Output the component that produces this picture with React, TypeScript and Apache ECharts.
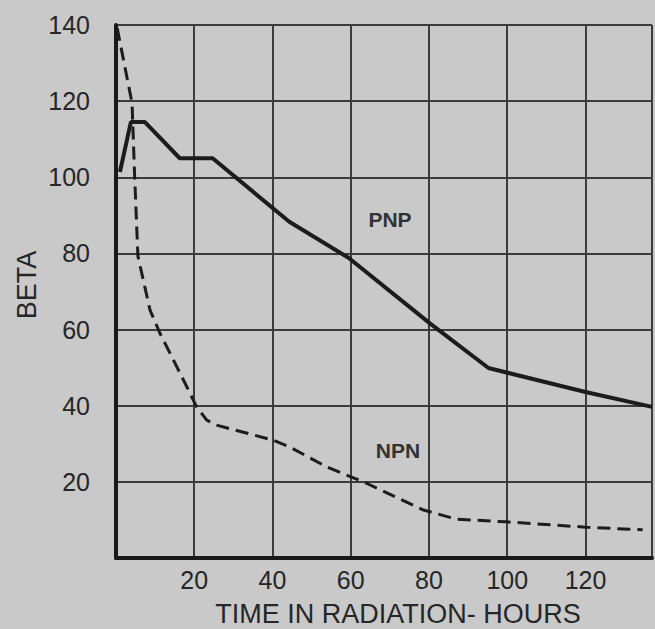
import React, { useEffect, useRef } from "react";
import * as echarts from "echarts";

const pnpHours = [1.0, 3.8, 7.4, 16.3, 24.7, 44.3, 59.5, 80.4, 95.2, 120, 137];
const pnpBeta = [101.4, 114.5, 114.5, 105, 105, 88.3, 78.8, 61.5, 49.9, 43.6, 39.7];

const npnHours = [0.3, 4.1, 4.8, 5.6, 8.7, 11.2, 17.6, 20.6, 23.2, 25.7, 40, 44.3, 53.9, 63.9, 78.6, 87, 99.7, 120.1, 134.6];
const npnBeta = [139.2, 119.5, 99.3, 79.3, 65.1, 59.1, 46.0, 39.7, 36.2, 34.9, 31.0, 29.2, 23.9, 19.7, 12.6, 10.2, 9.5, 8.1, 7.4];

const xTicks = [20, 40, 60, 80, 100, 120];
const yTicks = [20, 40, 60, 80, 100, 120, 140];

const xTitle = "TIME IN RADIATION- HOURS";
const yTitle = "BETA";
const pnpLabel = "PNP";
const npnLabel = "NPN";

const FONT = "'Liberation Sans', Arial, sans-serif";
const INK = "#262626";
const GRIDC = "#3c3c3c";

export default function App() {
  const ref = useRef<HTMLDivElement>(null);
  useEffect(() => {
    document.body.style.margin = "0";
    const chart = echarts.init(ref.current!, null, { renderer: "svg" });
    const zip = (xs: number[], ys: number[]) => xs.map((x, i) => [x, ys[i]]);
    chart.setOption({
      animation: false,
      backgroundColor: "#c9c9c9",
      grid: { left: 116, top: 25, right: 0, bottom: 71, containLabel: false },
      xAxis: {
        type: "value",
        min: 0,
        max: 137,
        interval: 20,
        axisLine: { show: true, onZero: false, lineStyle: { color: "#1a1a1a", width: 4 } },
        axisTick: { show: false },
        axisLabel: {
          margin: 9,
          fontFamily: FONT,
          fontSize: 25,
          color: INK,
          formatter: (v: number) => (xTicks.includes(v) ? String(v) : ""),
        },
        splitLine: { show: true, lineStyle: { color: GRIDC, width: 2 } },
      },
      yAxis: {
        type: "value",
        min: 0,
        max: 140,
        interval: 20,
        axisLine: { show: true, onZero: false, lineStyle: { color: "#1a1a1a", width: 4 } },
        axisTick: { show: false },
        axisLabel: {
          margin: 26,
          fontFamily: FONT,
          fontSize: 25,
          color: INK,
          formatter: (v: number) => (yTicks.includes(v) ? String(v) : ""),
        },
        splitLine: { show: true, lineStyle: { color: GRIDC, width: 2 } },
      },
      series: [
        {
          name: "PNP",
          type: "line",
          data: zip(pnpHours, pnpBeta),
          showSymbol: false,
          symbol: "none",
          lineStyle: { color: "#1c1c1c", width: 4 },
          z: 5,
        },
        {
          name: "NPN",
          type: "line",
          data: zip(npnHours, npnBeta),
          showSymbol: false,
          symbol: "none",
          lineStyle: { color: "#1c1c1c", width: 3, type: [13, 7] },
          z: 5,
        },
      ],
      graphic: [
        {
          type: "text",
          x: 398,
          y: 600,
          style: {
            text: xTitle,
            fontFamily: FONT,
            fontSize: 27,
            fill: INK,
            textAlign: "center",
            textVerticalAlign: "top",
          },
        },
        {
          type: "text",
          x: 27,
          y: 285,
          rotation: Math.PI / 2,
          style: {
            text: yTitle,
            fontFamily: FONT,
            fontSize: 27,
            fill: INK,
            textAlign: "center",
            textVerticalAlign: "middle",
          },
        },
        {
          type: "text",
          x: 390,
          y: 219,
          style: {
            text: pnpLabel,
            fontFamily: FONT,
            fontWeight: "bold",
            fontSize: 21,
            fill: "#333",
            textAlign: "center",
            textVerticalAlign: "middle",
          },
        },
        {
          type: "text",
          x: 398,
          y: 450,
          style: {
            text: npnLabel,
            fontFamily: FONT,
            fontWeight: "bold",
            fontSize: 21,
            fill: "#333",
            textAlign: "center",
            textVerticalAlign: "middle",
          },
        },
      ],
    });
    return () => chart.dispose();
  }, []);
  return <div ref={ref} style={{ width: 655, height: 629 }} />;
}
